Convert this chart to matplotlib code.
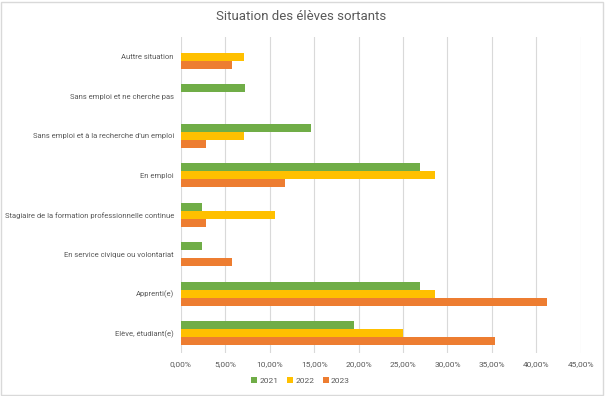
import matplotlib
matplotlib.use("Agg")
import matplotlib.pyplot as plt
import numpy as np
from matplotlib.ticker import FuncFormatter
from matplotlib.patches import Rectangle

categories = [
    "Elève, étudiant(e)",
    "Apprenti(e)",
    "En service civique ou volontariat",
    "Stagiaire de la formation professionnelle continue",
    "En emploi",
    "Sans emploi et à la recherche d'un emploi",
    "Sans emploi et ne cherche pas",
    "Auttre situation",
]
years = ["2021", "2022", "2023"]
v2021 = [19.5, 26.9, 2.4, 2.4, 26.9, 14.6, 7.2, 0.0]
v2022 = [25.0, 28.6, 0.0, 10.6, 28.6, 7.1, 0.0, 7.1]
v2023 = [35.3, 41.2, 5.7, 2.8, 11.7, 2.8, 0.0, 5.7]
colors = ["#70AD47", "#FFC000", "#ED7D31"]
xticks = [0, 5, 10, 15, 20, 25, 30, 35, 40, 45]

plt.rcParams['font.family'] = ['Roboto', 'DejaVu Sans']
fig = plt.figure(figsize=(6.05, 3.96), dpi=100)
ax = fig.add_axes([0.299, 0.109, 0.661, 0.797])

y = np.arange(len(categories))
h = 0.203
for i, (vals, c, lab) in enumerate(zip([v2021, v2022, v2023], colors, years)):
    ax.barh(y + (1 - i) * h, vals, height=h, color=c, label=lab, zorder=3)

ax.set_xlim(0, 45)
ax.set_ylim(-0.5, len(categories) - 0.5)
ax.set_xticks(xticks)
ax.xaxis.set_major_formatter(FuncFormatter(lambda v, p: f"{v:.2f}%".replace(".", ",")))
ax.set_yticks(y)
ax.set_yticklabels(categories)
ax.grid(axis='x', color='#D9D9D9', linewidth=0.8, zorder=0)
for s in ax.spines.values():
    s.set_visible(False)
ax.tick_params(axis='x', length=0, labelsize=6, colors='#595959', pad=6)
ax.tick_params(axis='y', length=0, labelsize=5.5, colors='#595959', pad=5)

fig.suptitle("Situation des élèves sortants", x=0.497, y=0.975, fontsize=9.5, color='#595959')
fig.legend(loc='center', bbox_to_anchor=(0.497, 0.04), ncol=3, frameon=False,
           fontsize=6, handlelength=0.7, handleheight=0.7, handletextpad=0.3,
           columnspacing=1.0, labelcolor='#595959')
fig.patches.append(Rectangle((0.002, 0.003), 0.995, 0.992, transform=fig.transFigure,
                             fill=False, edgecolor='#D9D9D9', linewidth=1))
fig.savefig("out.png", dpi=100)
